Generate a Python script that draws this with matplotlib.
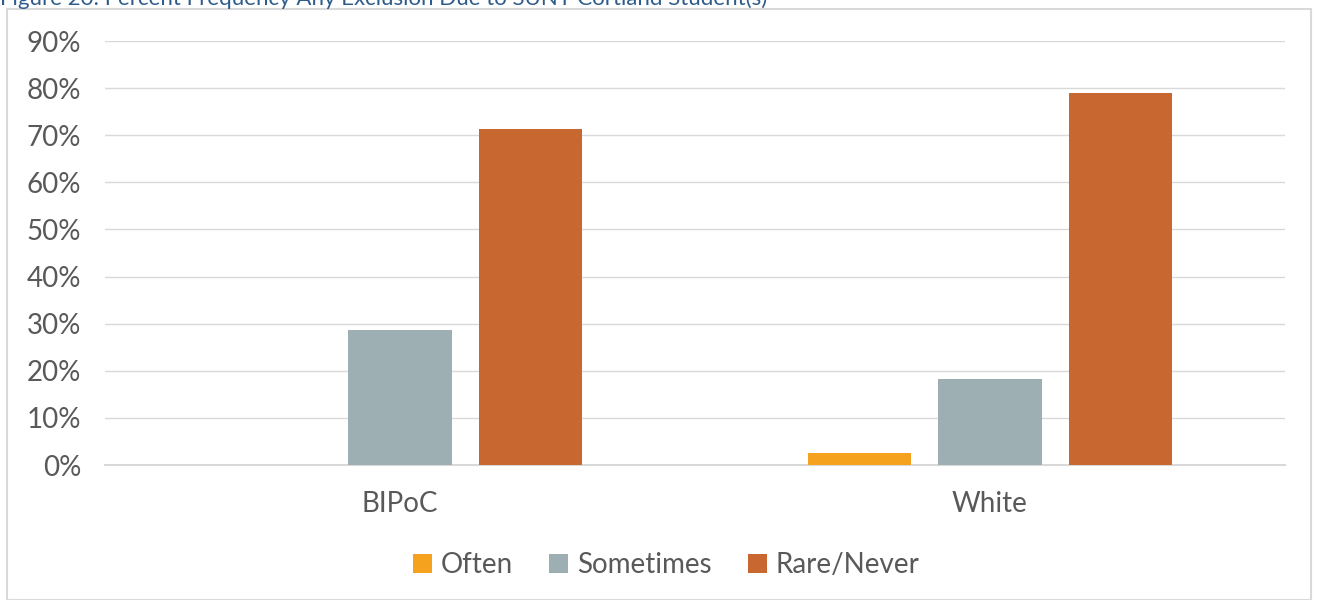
import matplotlib.pyplot as plt
import matplotlib.patches as patches
import numpy as np

categories = ['BIPoC', 'White']
often = [0.0, 2.5]
sometimes = [28.6, 18.3]
rare_never = [71.3, 79.0]
series_names = ['Often', 'Sometimes', 'Rare/Never']
colors = ['#F5A31F', '#9EAFB4', '#C86830']
yticks = [0, 10, 20, 30, 40, 50, 60, 70, 80, 90]
title = 'Figure 20: Percent Frequency Any Exclusion Due to SUNY Cortland Student(s)'

plt.rcParams['font.family'] = ['Lato', 'DejaVu Sans']
text_color = '#595959'

fig = plt.figure(figsize=(13.18, 6), dpi=100)
ax = fig.add_axes([105 / 1318, 1 - 465 / 600, 1180 / 1318, 424 / 600])

# chart frame
fig.patches.append(patches.Rectangle((7 / 1318, 0), 1304 / 1318, 1 - 9 / 600,
                                     transform=fig.transFigure, fill=False,
                                     edgecolor='#D9D9D9', linewidth=1.5))
# caption sits half off the top edge, as in the source
fig.text(0.0, 1 - 5 / 600, title, color='#2E5C8A', fontsize=16, va='baseline', ha='left')

x = np.arange(len(categories))
width = 0.175
offset = 0.221
for i, (vals, name) in enumerate(zip([often, sometimes, rare_never], series_names)):
    ax.bar(x + (i - 1) * offset, vals, width, color=colors[i], label=name, zorder=3)

ax.set_xlim(-0.5, 1.5)
ax.set_ylim(0, 90)
ax.set_yticks(yticks)
ax.set_yticklabels([f'{t}%' for t in yticks])
ax.set_xticks(x)
ax.set_xticklabels(categories)
ax.grid(axis='y', color='#D9D9D9', linewidth=1, zorder=0)
for s in ['top', 'right', 'left']:
    ax.spines[s].set_visible(False)
ax.spines['bottom'].set_color('#D9D9D9')
ax.spines['bottom'].set_linewidth(1.5)
ax.tick_params(axis='both', length=0, labelsize=20, colors=text_color)
ax.tick_params(axis='y', pad=17)
ax.tick_params(axis='x', pad=19)

leg = fig.legend(loc='center', bbox_to_anchor=(666 / 1318, 1 - 565 / 600), ncol=3,
                 frameon=False, fontsize=20, handlelength=0.7, handleheight=0.7,
                 handletextpad=0.3, columnspacing=1.3)
for t in leg.get_texts():
    t.set_color(text_color)

fig.savefig('out.png', dpi=100)
